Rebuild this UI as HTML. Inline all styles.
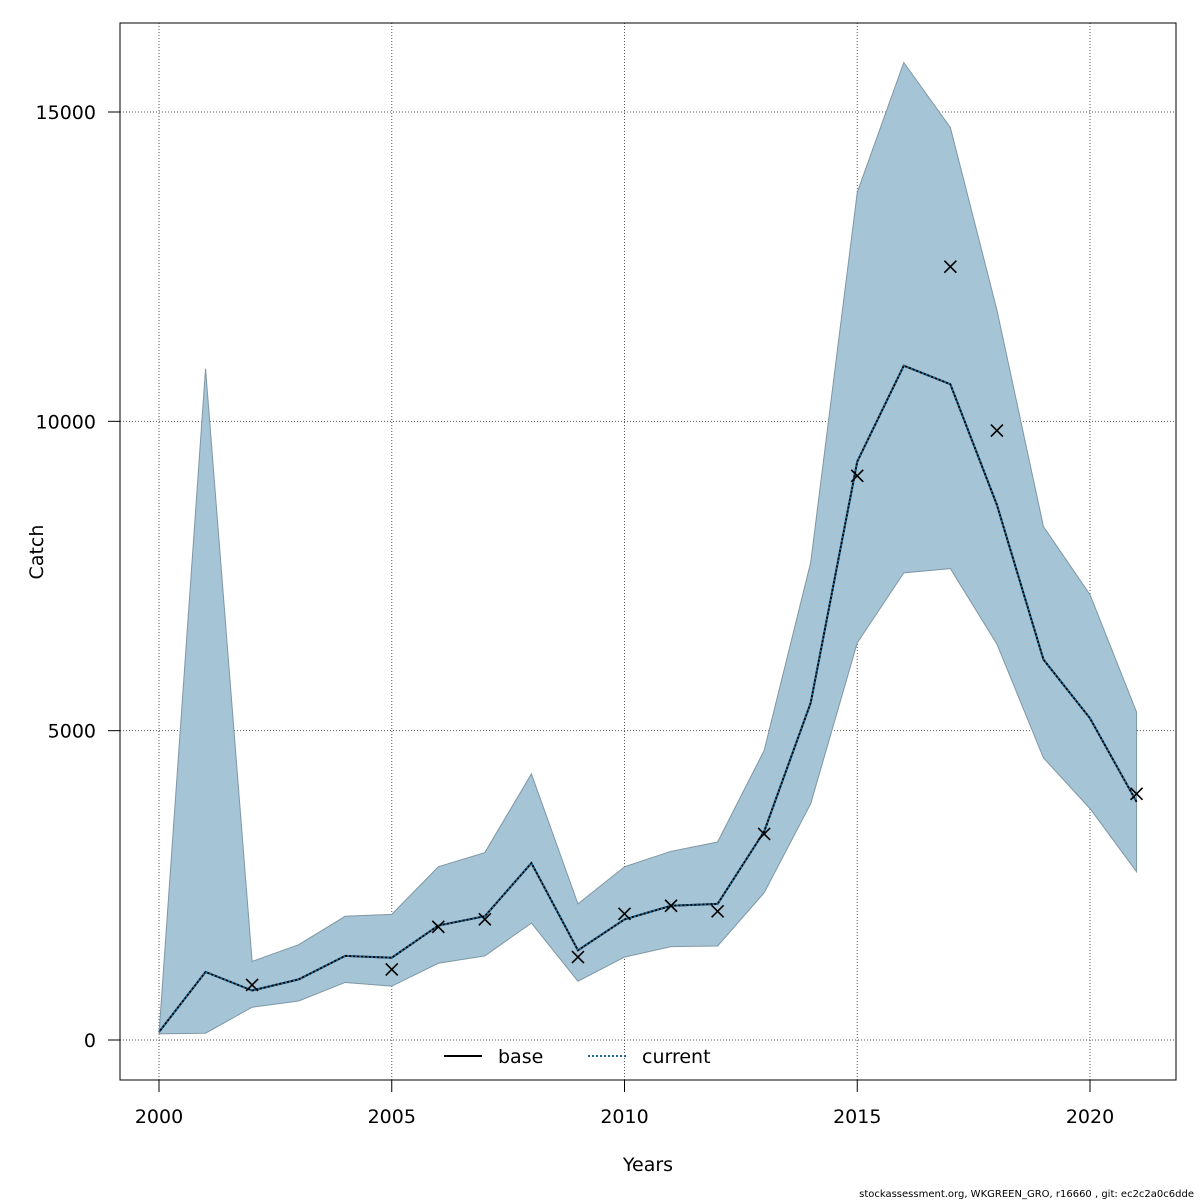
<!DOCTYPE html>
<html><head><meta charset="utf-8"><style>
html,body{margin:0;padding:0;background:#fff;}
svg{display:block;font-family:"DejaVu Sans","Liberation Sans",sans-serif;}
</style></head><body>
<svg id="chart" width="1200" height="1200" viewBox="0 0 1200 1200" xmlns="http://www.w3.org/2000/svg">
<rect x="0" y="0" width="1200" height="1200" fill="#fff"/>
<g id="grid"></g>
<g id="band"></g>
<g id="lines"></g>
<g id="axes"></g>
<rect x="120" y="23" width="1056" height="1057" fill="none" stroke="#000" stroke-width="1"/>
<text x="43" y="552" font-size="19" text-anchor="middle" transform="rotate(-90 43 552)">Catch</text>
<text x="648" y="1171" font-size="19" text-anchor="middle">Years</text>
<g>
<line x1="444" y1="1056" x2="482" y2="1056" stroke="#000" stroke-width="2"/>
<text x="498" y="1063" font-size="19">base</text>
<line x1="588" y1="1056" x2="626" y2="1056" stroke="#1a6a9a" stroke-width="2" stroke-dasharray="2,2"/>
<text x="642" y="1063" font-size="19">current</text>
</g>
<text x="1194" y="1197" font-size="10" text-anchor="end">stockassessment.org, WKGREEN_GRO, r16660 , git: ec2c2a0c6dde</text>
</svg>
<script>
const years=[2000,2001,2002,2003,2004,2005,2006,2007,2008,2009,2010,2011,2012,2013,2014,2015,2016,2017,2018,2019,2020,2021];
const upperBand=[100,10850,1270,1540,2000,2030,2800,3030,4300,2200,2800,3050,3200,4680,7720,13700,15800,14750,11800,8300,7200,5300];
const lowerBand=[100,110,530,630,930,870,1240,1360,1890,950,1340,1510,1520,2380,3820,6420,7550,7620,6400,4560,3740,2720];
const currentLine=[130,1100,800,980,1360,1330,1850,2000,2860,1450,1950,2170,2200,3370,5450,9350,10900,10600,8650,6150,5200,3850];
const obsYears=[2002,2005,2006,2007,2009,2010,2011,2012,2013,2015,2017,2018,2021];
const obsValues=[890,1140,1830,1950,1340,2040,2170,2080,3330,9120,12500,9850,3980];
const xTicks=[2000,2005,2010,2015,2020];
const yTicks=[0,5000,10000,15000];

const NS="http://www.w3.org/2000/svg";
function sx(y){return 159+(y-2000)*(1090-159)/20;}
function sy(v){return 1040-v*(1040-112)/15000;}
function mk(tag,attrs,parent){const e=document.createElementNS(NS,tag);for(const k in attrs)e.setAttribute(k,attrs[k]);parent.appendChild(e);return e;}
const grid=document.getElementById('grid'),band=document.getElementById('band'),lines=document.getElementById('lines'),axes=document.getElementById('axes');

xTicks.forEach(t=>{
  const g=mk('line',{x1:sx(t),x2:sx(t),y1:23,y2:1080,stroke:'#555','stroke-width':1,'stroke-dasharray':'1,2'},grid);
  
  
  const tk=mk('line',{x1:sx(t),x2:sx(t),y1:1080,y2:1092,stroke:'#000'},axes);
  
  
  const tx=mk('text',{x:sx(t),y:1123,'font-size':19,'text-anchor':'middle'},axes);
  tx.textContent=t;
  
  
});
mk('line',{x1:sx(2000),x2:sx(2020),y1:1080,y2:1080,stroke:'#000'},axes);
yTicks.forEach(t=>{
  const g=mk('line',{x1:120,x2:1176,y1:sy(t),y2:sy(t),stroke:'#555','stroke-width':1,'stroke-dasharray':'1,2'},grid);
  
  
  const tk=mk('line',{x1:108,x2:120,y1:sy(t),y2:sy(t),stroke:'#000'},axes);
  
  
  const tx=mk('text',{x:96,y:sy(t)+7,'font-size':19,'text-anchor':'end'},axes);
  tx.textContent=t;
  
  
});

let pts=years.map((y,i)=>sx(y)+','+sy(upperBand[i]));
for(let i=years.length-1;i>=0;i--)pts.push(sx(years[i])+','+sy(lowerBand[i]));
const poly=mk('polygon',{points:pts.join(' '),fill:'#a5c4d5',stroke:'#7f97a5','stroke-width':1},band);



const lp=years.map((y,i)=>sx(y)+','+sy(currentLine[i])).join(' ');
const l1=mk('polyline',{points:lp,fill:'none',stroke:'#000','stroke-width':2},lines);


const l2=mk('polyline',{points:lp,fill:'none',stroke:'#1a6a9a','stroke-width':2,'stroke-dasharray':'2,2'},lines);



obsYears.forEach((y,i)=>{
  const cx=sx(y),cy=sy(obsValues[i]),r=6;
  const p=mk('path',{d:`M${cx-r},${cy-r}L${cx+r},${cy+r}M${cx-r},${cy+r}L${cx+r},${cy-r}`,stroke:'#000','stroke-width':1.6,fill:'none'},lines);
  
  
});
</script>
</body></html>
